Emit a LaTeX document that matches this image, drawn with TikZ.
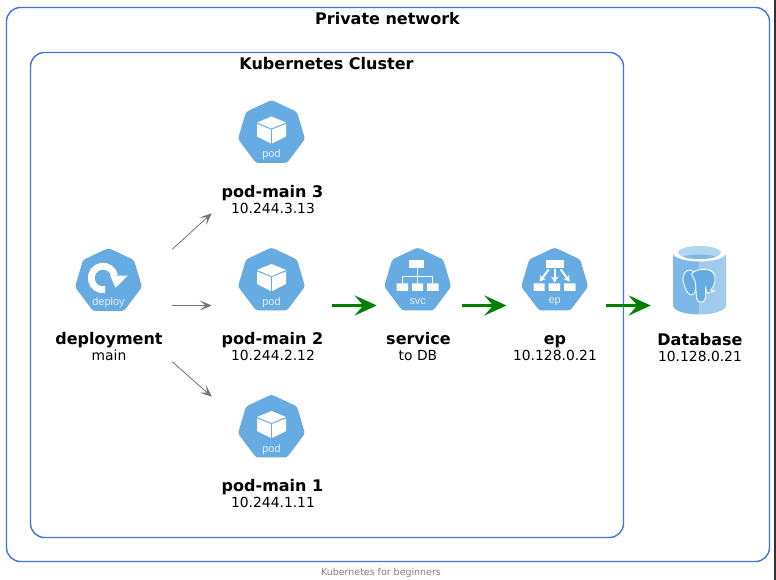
\documentclass[tikz,border=0pt]{standalone}
\usepackage{fontspec}
\setmainfont{DejaVu Sans}
\newfontfamily\iconfont{Liberation Sans}
\usetikzlibrary{arrows.meta}
\definecolor{framecol}{HTML}{4272E2}
\definecolor{iconcol}{HTML}{66ABE2}
\definecolor{icontext}{HTML}{E4F0FA}
\definecolor{greencol}{HTML}{008000}
\tikzset{
    framebox/.style={draw=framecol,line width=1.05pt,rounded corners=10.5pt},
    nodebox/.style={inner sep=0pt,minimum height=84pt},
    titletext/.style={anchor=base,font=\bfseries\fontsize{12}{14}\selectfont},
    subtext/.style={anchor=base,font=\fontsize{10.4}{12}\selectfont},
    icontxt/.style={text=icontext,font=\iconfont\fontsize{8.2}{9}\selectfont},
    greyarrow/.style={draw=black!55,line width=0.6pt,-{Stealth[length=9pt,width=7.5pt,inset=4.5pt]}},
    greenarrow/.style={draw=greencol,line width=2.8pt,-{Stealth[length=16.5pt,width=15pt,inset=6.5pt]}},
    pics/hepta/.style={code={
        \fill[iconcol,rounded corners=2pt] (0,-32) -- (25.5,-20) -- (33.5,7) -- (15.5,31)
        -- (-15.5,31) -- (-33.5,7) -- (-25.5,-20) -- cycle;
    }},
    pics/podicon/.style={code={
        \pic {hepta};
        \fill[white] (0,-15.5) -- (14.5,-9.5) -- (0,-3.5) -- (-14.5,-9.5) -- cycle;
        \fill[white] (-14.5,-8) -- (-0.6,-2.5) -- (-0.6,11.5) -- (-14.5,4.5) -- cycle;
        \fill[white] (14.5,-8) -- (0.6,-2.5) -- (0.6,11.5) -- (14.5,4.5) -- cycle;
        \node[icontxt] (#1) at (0,23) {pod};
    }},
    pics/deployicon/.style={code={
        \pic {hepta};
        \draw[white,line width=5.1pt] (-5.5,-2) ++(80:11.8) arc (80:350:11.8);
        \fill[white] (1.7,-4.3) -- (19.3,-4.3) -- (7,7.7) -- cycle;
        \node[icontxt] (#1) at (0,22.5) {deploy};
    }},
    pics/svcicon/.style={code={
        \pic {hepta};
        \fill[white] (-9,-19) rectangle (6,-11);
        \draw[white,line width=0.9pt] (0,-11) -- (0,4) (-15,4) -- (-15,-3) -- (15,-3) -- (15,4);
        \fill[white] (-21,4) rectangle (-9.5,11.5) (-5.5,4) rectangle (5.5,11.5) (9.5,4) rectangle (21,11.5);
        \node[icontxt] (#1) at (0,22) {svc};
    }},
    pics/epicon/.style={code={
        \pic {hepta};
        \fill[white] (-9,-19) rectangle (9,-11);
        \draw[white,line width=1.5pt,-{Stealth[length=4.5pt,width=5.5pt]}] (0,-10) -- (0,3);
        \draw[white,line width=1.5pt,-{Stealth[length=4.5pt,width=5.5pt]}] (-6,-10) -- (-15,2);
        \draw[white,line width=1.5pt,-{Stealth[length=4.5pt,width=5.5pt]}] (6,-10) -- (15,2);
        \fill[white] (-21,4) rectangle (-10,11.5) (-6,4) rectangle (5.5,11.5) (9.5,4) rectangle (21,11.5);
        \node[icontxt] (#1) at (0,22) {ep};
    }},
    pics/dbicon/.style={code={
        \fill[iconcol!85!white] (-26.5,-32) -- (0,-32) -- (0,29.5)
        .. controls (-15,29.5) and (-26.5,25.5) .. (-26.5,20) -- cycle;
        \fill[iconcol!62!white] (26.5,-32) -- (0,-32) -- (0,29.5)
        .. controls (15,29.5) and (26.5,25.5) .. (26.5,20) -- cycle;
        \fill[white] (0,-32) ellipse (26.5 and 8.5);
        \fill[iconcol!50!white] (0,-32.5) ellipse (21.5 and 6.5);
        \begin{scope}
            \clip (0,-32.5) ellipse (21.5 and 6.5);
            \fill[iconcol!85!white] (0,-24.5) ellipse (21.5 and 6);
        \end{scope}
        \draw[white,line width=0.65pt,fill=iconcol] (-9,-15) .. controls (-15,-15.5) and (-18,-8) .. (-16,-2)
        .. controls (-14,4) and (-12,10) .. (-8,10) .. controls (-4,10) and (-3,3) .. (-3,-2)
        .. controls (-3,-8) and (-4,-14) .. (-9,-15) -- cycle;
        \draw[white,line width=0.65pt,fill=iconcol] (-8,-11) .. controls (-3,-16.5) and (5,-16.5) .. (11,-14.5)
        .. controls (16,-12) and (17,-5) .. (14,1) .. controls (13,3) and (12,4) .. (11,5)
        -- (15,6) -- (8,8) -- (6,3) -- (6,13) .. controls (5,18.5) and (-2,19) .. (-3,13)
        -- (-4,-2) .. controls (-5,-6) and (-7,-8) .. (-8,-11) -- cycle;
    }},
}
\begin{document}
\begin{tikzpicture}[x=0.75pt,y=-0.75pt]
    \useasboundingbox (0,0) rectangle (776,580);
    \fill[white] (0,0) rectangle (776,580);
    \fill[black!80] (774,0) rectangle (776,580);
    \draw[framebox] (6.5,7.5) rectangle (769.5,561.5);
    \draw[framebox] (30.5,52.5) rectangle (623.5,537.5);
    \node[titletext] (privatetitle) at (387.5,25) {Private network};
    \node[titletext] (clustertitle) at (326.5,70) {Kubernetes Cluster};
    \node[anchor=base,text=black!50,font=\fontsize{7.1}{8}\selectfont] (footer) at (381,575.5) {Kubernetes for beginners};

    \node[nodebox,minimum width=94.5pt] (deploy) at (109,305.5) {};
    \node[nodebox,minimum width=90pt] (podthree) at (272,157) {};
    \node[nodebox,minimum width=90pt] (podtwo) at (272,305.5) {};
    \node[nodebox,minimum width=90pt] (podone) at (272,453) {};
    \node[nodebox,minimum width=63.5pt] (service) at (419.3,305.5) {};
    \node[nodebox,minimum width=74.2pt] (endpoint) at (556.2,305.5) {};
    \node[nodebox,minimum width=73.5pt] (database) at (700,305.5) {};

    \pic at (108.5,280) {deployicon=deployglyph};
    \pic at (271.5,132) {podicon=podthreeglyph};
    \pic at (271.5,279.5) {podicon=podtwoglyph};
    \pic at (271.5,426.5) {podicon=podoneglyph};
    \pic at (417.7,279.5) {svcicon=svcglyph};
    \pic at (554.7,279.5) {epicon=epglyph};
    \pic at (699.5,285) {dbicon};

    \node[titletext] (deployname) at (109,345) {deployment};
    \node[subtext] (deploysub) at (109,361) {main};
    \node[titletext] (podthreename) at (272.5,198) {pod-main 3};
    \node[subtext] (podthreesub) at (273,214) {10.244.3.13};
    \node[titletext] (podtwoname) at (272.5,345) {pod-main 2};
    \node[subtext] (podtwosub) at (273,361) {10.244.2.12};
    \node[titletext] (podonename) at (272.5,492) {pod-main 1};
    \node[subtext] (podonesub) at (273,508) {10.244.1.11};
    \node[titletext] (servicename) at (418.5,345) {service};
    \node[subtext] (servicesub) at (418,361) {to DB};
    \node[titletext] (endpointname) at (555,345) {ep};
    \node[subtext] (endpointsub) at (555,361) {10.128.0.21};
    \node[titletext] (databasename) at (700,345.5) {Database};
    \node[subtext] (databasesub) at (700,362) {10.128.0.21};

    \draw[greyarrow] (deploy.north east) -- (podthree.south west);
    \draw[greyarrow] (deploy.east) -- (podtwo.west);
    \draw[greyarrow] (deploy.south east) -- (podone.north west);
    \draw[greenarrow] (podtwo.east) -- (service.west);
    \draw[greenarrow] (service.east) -- (endpoint.west);
    \draw[greenarrow] (endpoint.east) -- (database.west);
\end{tikzpicture}
\end{document}
